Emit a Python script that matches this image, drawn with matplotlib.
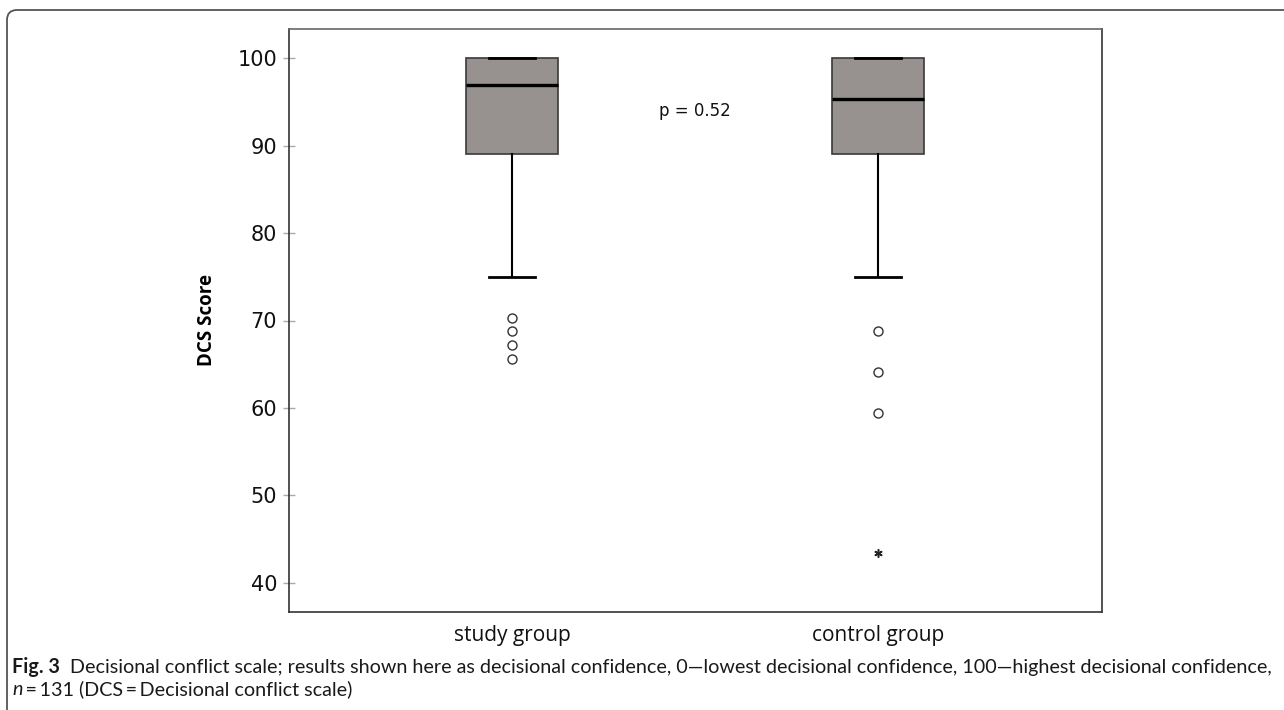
import matplotlib
matplotlib.use("Agg")
import matplotlib.pyplot as plt
from matplotlib.patches import FancyBboxPatch
from matplotlib.transforms import IdentityTransform

groups = ["study group", "control group"]
medians = [96.9, 95.3]
q1s = [89.1, 89.1]
q3s = [100.0, 100.0]
whisker_low = [75.0, 75.0]
whisker_high = [100.0, 100.0]
outliers = [[70.3, 68.75, 67.2, 65.6], [68.75, 64.1, 59.4]]
extremes = [[], [43.4]]
yticks = [40, 50, 60, 70, 80, 90, 100]
p_text = "p = 0.52"
caption1_bold = "Fig. 3"
caption1 = ("Decisional conflict scale; results shown here as decisional confidence, "
            "0\u2014lowest decisional confidence, 100\u2014highest decisional confidence,")
caption2_it = "n"
caption2 = "\u2009=\u2009131 (DCS\u2009=\u2009Decisional conflict scale)"

W, H = 1284, 710
fig = plt.figure(figsize=(W / 100, H / 100), dpi=100)
ax = fig.add_axes([289 / W, 1 - 612 / H, (1102 - 289) / W, (612 - 29) / H])

positions = [1, 2]
stats = []
for i, g in enumerate(groups):
    stats.append(dict(med=medians[i], q1=q1s[i], q3=q3s[i], whislo=whisker_low[i],
                      whishi=whisker_high[i], fliers=outliers[i], label=g))

ax.bxp(stats, positions=positions, widths=0.252, patch_artist=True,
       boxprops=dict(facecolor="#979190", edgecolor="#3a3a3a", linewidth=1.2),
       medianprops=dict(color="black", linewidth=2.4),
       whiskerprops=dict(color="black", linewidth=1.5),
       capprops=dict(color="black", linewidth=2.0),
       flierprops=dict(marker="o", markerfacecolor="none", markeredgecolor="#333333",
                       markersize=6.5, markeredgewidth=1.0, linestyle="none"))

for pos, ext in zip(positions, extremes):
    if ext:
        ax.plot([pos] * len(ext), ext, linestyle="none", marker=(6, 2, 0), color="#222222",
                markersize=6, markeredgewidth=1.1)

ax.set_xlim(0.391, 2.612)
ax.set_ylim(36.65, 103.35)
ax.set_yticks(yticks)
ax.set_xticks(positions)
ax.set_xticklabels(groups, fontsize=15, family="Open Sans", color="#111111")
ax.tick_params(axis="x", length=0, pad=9)
ax.tick_params(axis="y", direction="inout", length=9, width=1.0, color="#aaaaaa",
               labelsize=15, pad=4, labelcolor="#111111")
for s in ax.spines.values():
    s.set_color("#333333")
    s.set_linewidth(1.2)
ax.spines["top"].set_color("#666666")

ax.set_ylabel("DCS Score", fontsize=13.5, family="Open Sans", fontweight="bold",
              labelpad=15)

ax.text(1.5, 94.0, p_text, fontsize=12, ha="center", va="center", color="#111111")

# outer frame
frame = FancyBboxPatch((7, -10), 1400, 710 - 10 + 10,
                       boxstyle="round,pad=0,rounding_size=10",
                       transform=IdentityTransform(), facecolor="none",
                       edgecolor="#555555", linewidth=1.3)
fig.patches.append(frame)

# caption
cap_family = ["Lato", "DejaVu Sans"]
fig.canvas.draw()
r = fig.canvas.get_renderer()
cap_fs = 13.5
t1 = fig.text(12 / W, 1 - 673 / H, caption1_bold, fontsize=cap_fs, fontweight="bold",
              family=cap_family, va="baseline", ha="left", color="#1a1a1a")
bb = t1.get_window_extent(r)
t2 = fig.text((bb.x1 + 10) / W, 1 - 673 / H, caption1, fontsize=cap_fs,
              family=cap_family, va="baseline", ha="left", color="#1a1a1a")
bb2 = t2.get_window_extent(r)
target = 1270
scale = (target - 12) / (bb2.x1 - 12)
t1.set_fontsize(cap_fs * scale)
bb = t1.get_window_extent(r)
t2.set_fontsize(cap_fs * scale)
t2.set_x((bb.x1 + 10) / W)
t3 = fig.text(12 / W, 1 - 695 / H, caption2_it, fontsize=cap_fs * scale, style="italic",
              family=cap_family, va="baseline", ha="left", color="#1a1a1a")
bb3 = t3.get_window_extent(r)
fig.text((bb3.x1 + 1) / W, 1 - 695 / H, caption2, fontsize=cap_fs * scale,
         family=cap_family, va="baseline", ha="left", color="#1a1a1a")

fig.savefig("out.png", dpi=100)
